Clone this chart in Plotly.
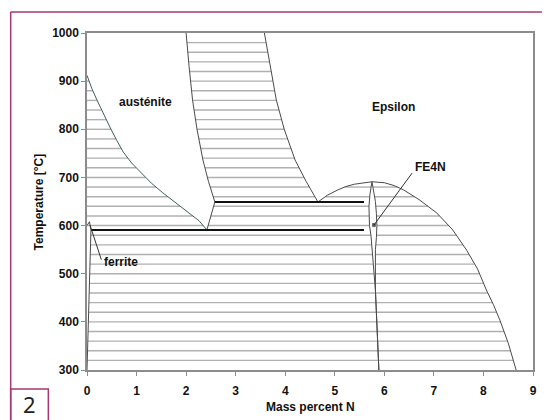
import numpy as np
import plotly.graph_objects as go

# ---- Fe–N phase boundaries: mass percent N vs temperature (°C) ----
A3_X = [0.0, 0.1, 0.2, 0.33, 0.46, 0.6, 0.73, 0.9, 1.1, 1.3, 1.53, 1.9, 2.26, 2.42]
A3_T = [912, 884, 861, 832, 805, 777, 753, 730, 708, 688, 668, 638, 610, 591]

ALPHA_TOP_X = [0.0, 0.05, 0.08]
ALPHA_TOP_T = [600, 608, 591]

FERRITE_X = [0.08, 0.06, 0.04, 0.02, 0.0]
FERRITE_T = [591, 520, 450, 380, 300]

GAMMA_R_X = [2.42, 2.58, 2.45, 2.34, 2.22, 2.13, 2.06, 2.0]
GAMMA_R_T = [591, 649, 692, 736, 800, 861, 930, 1000]

EPS_L_X = [4.66, 4.42, 4.2, 3.98, 3.82, 3.70, 3.58]
EPS_L_T = [649, 692, 736, 800, 861, 930, 1000]

EPS_SOLV_L_X = [4.66, 4.85, 5.06, 5.22, 5.4, 5.58, 5.75]
EPS_SOLV_L_T = [649, 663, 674, 681, 686, 689, 691]
EPS_SOLV_R_X = [5.75, 6.0, 6.2, 6.39, 6.7, 7.06, 7.38, 7.66, 7.88, 8.06, 8.2, 8.33, 8.5, 8.66]
EPS_SOLV_R_T = [691, 689, 683, 674, 654, 626, 591, 549, 510, 466, 436, 404, 356, 300]

GP_L_X = [5.75, 5.71, 5.69, 5.69, 5.70, 5.73, 5.77, 5.82, 5.89]
GP_L_T = [691, 665, 640, 620, 600, 580, 520, 466, 300]
GP_R_X = [5.75, 5.79, 5.82, 5.84, 5.85, 5.84, 5.82, 5.82, 5.89]
GP_R_T = [691, 670, 650, 625, 600, 575, 550, 466, 300]

EUTECTOID_T = 591
EUTECTOID_X = [0.08, 5.59]
EUTECTIC_T = 649
EUTECTIC_X = [2.58, 5.59]

HATCH_T = list(range(320, 1000, 20))

X_TICKS = list(range(0, 10))
Y_TICKS = list(range(300, 1001, 100))

LABELS = [("austénite", 1.19, 857), ("Epsilon", 6.18, 847),
          ("FE4N", 6.93, 721), ("ferrite", 0.69, 525)]
FE4N_PTR_X = [6.56, 5.79]
FE4N_PTR_T = [709, 601]
FERRITE_PTR_X = [0.06, 0.29]
FERRITE_PTR_T = [601, 529]


def x_at(xs, ts, t):
    xs = np.asarray(xs, float)
    ts = np.asarray(ts, float)
    order = np.argsort(ts)
    return float(np.interp(t, ts[order], xs[order]))


# hatch segments inside the two-phase fields
hx, hy = [], []


def seg(x0, x1, t):
    if x1 > x0:
        hx.extend([x0, x1, None])
        hy.extend([t, t, None])


for t in HATCH_T:
    if t < EUTECTOID_T:
        seg(x_at(FERRITE_X, FERRITE_T, t), x_at(GP_L_X, GP_L_T, t), t)
        seg(x_at(GP_R_X, GP_R_T, t), x_at(EPS_SOLV_R_X, EPS_SOLV_R_T, t), t)
    else:
        if t < max(A3_T):
            seg(0.0, x_at(A3_X, A3_T, t), t)
        if t < EUTECTIC_T:
            seg(x_at(GAMMA_R_X, GAMMA_R_T, t), x_at(GP_L_X, GP_L_T, t), t)
        else:
            seg(x_at(GAMMA_R_X, GAMMA_R_T, t), x_at(EPS_L_X, EPS_L_T, t), t)
            if t < max(EPS_SOLV_L_T):
                seg(x_at(EPS_SOLV_L_X, EPS_SOLV_L_T, t), x_at(GP_L_X, GP_L_T, t), t)
        if t < max(EPS_SOLV_R_T):
            seg(x_at(GP_R_X, GP_R_T, t), x_at(EPS_SOLV_R_X, EPS_SOLV_R_T, t), t)

fig = go.Figure()
fig.add_trace(go.Scatter(x=hx, y=hy, mode="lines",
                         line=dict(color="#b0b0b0", width=1.4), hoverinfo="skip"))

BOUND = "#4a4a4a"
for xs, ts, col in [(A3_X, A3_T, "#3f5e5e"), (ALPHA_TOP_X, ALPHA_TOP_T, BOUND),
                    (FERRITE_X, FERRITE_T, BOUND), (GAMMA_R_X, GAMMA_R_T, BOUND),
                    (EPS_L_X, EPS_L_T, BOUND), (EPS_SOLV_L_X, EPS_SOLV_L_T, BOUND),
                    (EPS_SOLV_R_X, EPS_SOLV_R_T, BOUND), (GP_L_X, GP_L_T, BOUND),
                    (GP_R_X, GP_R_T, BOUND)]:
    fig.add_trace(go.Scatter(x=xs, y=ts, mode="lines", line=dict(color=col, width=1),
                             hoverinfo="skip"))

for xs, t in [(EUTECTOID_X, EUTECTOID_T), (EUTECTIC_X, EUTECTIC_T)]:
    fig.add_trace(go.Scatter(x=xs, y=[t, t], mode="lines",
                             line=dict(color="#111111", width=2), hoverinfo="skip"))

fig.add_trace(go.Scatter(x=FERRITE_PTR_X, y=FERRITE_PTR_T, mode="lines",
                         line=dict(color="#333333", width=1), hoverinfo="skip"))
fig.add_trace(go.Scatter(x=FE4N_PTR_X, y=FE4N_PTR_T, mode="lines+markers",
                         line=dict(color="#333333", width=1),
                         marker=dict(symbol="square", size=[0, 3], color="#111111"),
                         hoverinfo="skip"))

FONT = "Liberation Sans, Arial, sans-serif"
for text, x, t in LABELS:
    fig.add_annotation(x=x, y=t, text=text, showarrow=False,
                       xanchor="center", yanchor="middle",
                       font=dict(family=FONT, size=12, color="#111111", weight="bold"))

# page geometry in pixels -> paper coordinates
L, T, W, H = 87, 33, 450, 337


def px(x):
    return (x - L) / W


def py(y):
    return (T + H - y) / H


fig.add_annotation(xref="paper", yref="paper", x=px(312), y=py(407),
                   xanchor="center", yanchor="middle",
                   text="Mass percent N", showarrow=False,
                   font=dict(family=FONT, size=12, color="#111111", weight="bold"))
fig.add_annotation(xref="paper", yref="paper", x=px(39), y=py(202),
                   xanchor="center", yanchor="middle",
                   text="Temperature [°C]", showarrow=False, textangle=-90,
                   font=dict(family=FONT, size=12, color="#111111", weight="bold"))

FRAME = "#a8376f"
fig.add_shape(type="line", xref="paper", yref="paper", x0=px(10), x1=px(546),
              y0=py(12), y1=py(12), line=dict(color=FRAME, width=1.5))
fig.add_shape(type="line", xref="paper", yref="paper", x0=px(10), x1=px(10),
              y0=py(12), y1=py(420), line=dict(color=FRAME, width=1.5))
fig.add_shape(type="rect", xref="paper", yref="paper", x0=px(10), x1=px(48),
              y0=py(389), y1=py(422), line=dict(color=FRAME, width=1.5))
fig.add_annotation(xref="paper", yref="paper", x=px(29), y=py(404), text="2",
                   xanchor="center", yanchor="middle", showarrow=False,
                   font=dict(family="Noto Sans, sans-serif", size=22, color="#222222"))

axis_common = dict(showgrid=False, zeroline=False, showline=True, mirror=True,
                   linecolor="#8c8c8c", linewidth=1.5, ticks="outside", ticklen=4,
                   tickcolor="#8c8c8c", tickwidth=1,
                   tickfont=dict(family=FONT, size=12, color="#111111", weight="bold"))
fig.update_xaxes(range=[0, 9], tickvals=X_TICKS, ticklabelstandoff=5, **axis_common)
fig.update_yaxes(range=[300, 1000], tickvals=Y_TICKS, **axis_common)

fig.update_layout(width=546, height=420, margin=dict(l=L, r=546 - L - W, t=T, b=420 - T - H),
                  paper_bgcolor="white", plot_bgcolor="white", showlegend=False)

fig.write_html("out.html")
